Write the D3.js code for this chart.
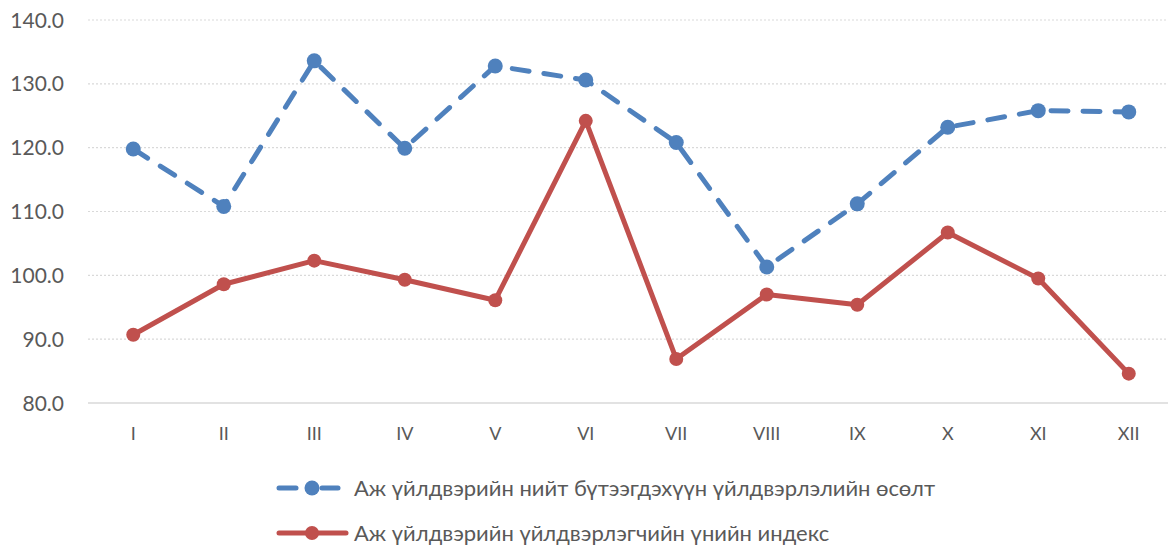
<!DOCTYPE html>
<html>
<head>
<meta charset="utf-8">
<script src="https://cdn.jsdelivr.net/npm/d3@7"></script>
<style>
  body { margin: 0; background: #fff; }
  svg text { font-family: Lato, "Open Sans", sans-serif; fill: #595959; }
</style>
</head>
<body>
<svg id="chart" width="1168" height="545"></svg>
<script>
const months = ["I", "II", "III", "IV", "V", "VI", "VII", "VIII", "IX", "X", "XI", "XII"];
const growth = [119.8, 110.8, 133.6, 119.9, 132.8, 130.6, 120.8, 101.3, 111.2, 123.2, 125.8, 125.6];
const priceIndex = [90.7, 98.6, 102.3, 99.3, 96.1, 124.2, 86.9, 97.0, 95.4, 106.7, 99.5, 84.6];
const yTicks = [80, 90, 100, 110, 120, 130, 140];
const seriesNames = [
    "Аж үйлдвэрийн нийт бүтээгдэхүүн үйлдвэрлэлийн өсөлт",
    "Аж үйлдвэрийн үйлдвэрлэгчийн үнийн индекс"
];

const svg = d3.select("#chart");
const plotLeft = 88, plotRight = 1174, plotTop = 20, plotBottom = 403;

const x = d3.scaleBand().domain(months).range([plotLeft, plotRight]);
const y = d3.scaleLinear().domain([80, 140]).range([plotBottom, plotTop]);

// gridlines
svg.append("g").selectAll("line")
    .data(yTicks.filter(t => t > 80))
    .join("line")
    .attr("x1", plotLeft).attr("x2", 1168)
    .attr("y1", d => y(d)).attr("y2", d => y(d))
    .attr("stroke", "#d9d9d9").attr("stroke-width", 1.2)
    .attr("stroke-dasharray", "2,2");

// x axis line
svg.append("line")
    .attr("x1", plotLeft).attr("x2", 1168)
    .attr("y1", y(80)).attr("y2", y(80))
    .attr("stroke", "#d9d9d9").attr("stroke-width", 1.5);

// y tick labels
svg.append("g").selectAll("text")
    .data(yTicks)
    .join("text")
    .attr("x", 64).attr("y", d => y(d))
    .attr("dy", "0.36em")
    .attr("text-anchor", "end")
    .style("font-size", "21px")
    .text(d => d.toFixed(1));

// x tick labels
svg.append("g").selectAll("text")
    .data(months)
    .join("text")
    .attr("x", d => x(d) + x.bandwidth() / 2)
    .attr("y", 434)
    .attr("dy", "0.36em")
    .attr("text-anchor", "middle")
    .style("font-size", "18px")
    .text(d => d);

const line = d3.line()
    .x((d, i) => x(months[i]) + x.bandwidth() / 2)
    .y(d => y(d));

const series = [
    { values: growth, color: "#4F81BD", dash: "17,15", r: 7.5 },
    { values: priceIndex, color: "#C0504D", dash: null, r: 7 }
];

series.forEach(s => {
    svg.append("path")
        .datum(s.values)
        .attr("d", line)
        .attr("fill", "none")
        .attr("stroke", s.color)
        .attr("stroke-width", 5)
        .attr("stroke-linecap", "round")
        .attr("stroke-linejoin", "round")
        .attr("stroke-dasharray", s.dash);
    svg.append("g").selectAll("circle")
        .data(s.values)
        .join("circle")
        .attr("cx", (d, i) => x(months[i]) + x.bandwidth() / 2)
        .attr("cy", d => y(d))
        .attr("r", s.r)
        .attr("fill", s.color);
});

// legend
const legendY = [488, 533];
series.forEach((s, i) => {
    const g = svg.append("g").attr("transform", `translate(0,${legendY[i]})`);
    if (s.dash) {
        g.append("line").attr("x1", 279).attr("x2", 296).attr("y1", 0).attr("y2", 0)
            .attr("stroke", s.color).attr("stroke-width", 5).attr("stroke-linecap", "round");
        g.append("line").attr("x1", 322).attr("x2", 338).attr("y1", 0).attr("y2", 0)
            .attr("stroke", s.color).attr("stroke-width", 5).attr("stroke-linecap", "round");
    } else {
        g.append("line").attr("x1", 279).attr("x2", 346).attr("y1", 0).attr("y2", 0)
            .attr("stroke", s.color).attr("stroke-width", 5).attr("stroke-linecap", "round");
    }
    g.append("circle").attr("cx", 312).attr("cy", 0).attr("r", s.r).attr("fill", s.color);
    g.append("text").attr("x", 354).attr("y", 0).attr("dy", "0.36em")
        .style("font-size", "22px")
        .text(seriesNames[i]);
});
</script>
</body>
</html>
